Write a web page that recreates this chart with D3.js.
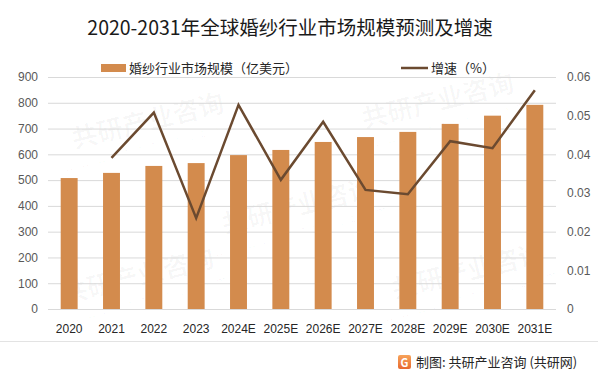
<!DOCTYPE html>
<html>
<head>
  <meta charset="utf-8">
  <title>2020-2031年全球婚纱行业市场规模预测及增速</title>
  <style>
    body { margin: 0; background: #fff; }
    text { font-family: "Noto Sans CJK SC", "Noto Sans", sans-serif; }
    .tick text { font-family: "Liberation Sans", "Noto Sans", sans-serif; }
  </style>
  <script src="https://d3js.org/d3.v7.min.js"></script>
</head>
<body>
  <div id="chart"></div>
  <script>
    const categories = ['2020', '2021', '2022', '2023', '2024E', '2025E', '2026E',
      '2027E', '2028E', '2029E', '2030E', '2031E'];
    const marketSize = [508, 528, 555, 566, 597, 617, 648, 667, 687, 718, 750, 792];
    const growth = [null, 0.0391, 0.0508, 0.0235, 0.0528, 0.0334, 0.0484,
      0.0308, 0.0297, 0.0434, 0.0416, 0.0566];
    const leftTicks = [0, 100, 200, 300, 400, 500, 600, 700, 800, 900];
    const rightTicks = [0, 0.01, 0.02, 0.03, 0.04, 0.05, 0.06];

    const W = 602, H = 375;
    const plot = { left: 48, right: 556, top: 77, bottom: 309 };
    const barColor = '#d38b4d', lineColor = '#6b4a30';

    const svg = d3.select('#chart').append('svg')
      .attr('width', W)
      .attr('height', H);

    // faint watermarks, kept inside the frame
    const marks = [[150, 130], [440, 110], [300, 215], [140, 285], [470, 280]];
    const wm = svg.append('g').attr('class', 'watermark');
    marks.forEach(([x, y]) => {
      const g = wm.append('g').attr('transform', `translate(${x},${y}) rotate(-14)`);
      g.append('text').attr('text-anchor', 'middle')
        .attr('font-size', 26).attr('font-weight', 'bold')
        .attr('fill', '#000').attr('fill-opacity', 0.03)
        .text('共研产业咨询');
      g.append('text').attr('text-anchor', 'middle').attr('y', 20)
        .attr('font-size', 12).attr('letter-spacing', 7)
        .attr('fill', '#000').attr('fill-opacity', 0.03)
        .text('www.gonyn.com');
    });

    const x = d3.scaleBand()
      .domain(categories)
      .range([plot.left, plot.right])
      .paddingInner(0.6)
      .paddingOuter(0.3);

    const y = d3.scaleLinear().domain([0, 900]).range([plot.bottom, plot.top]);
    const y2 = d3.scaleLinear().domain([0, 0.06]).range([plot.bottom, plot.top]);

    // gridlines
    svg.append('g')
      .selectAll('line')
      .data(leftTicks)
      .join('line')
        .attr('x1', plot.left).attr('x2', plot.right)
        .attr('y1', d => y(d) + 0.5).attr('y2', d => y(d) + 0.5)
        .attr('stroke', '#d9d9d9').attr('stroke-width', 1);

    // left axis
    const leftAxis = svg.append('g')
      .attr('transform', `translate(${plot.left - 10},0)`)
      .call(d3.axisLeft(y).tickValues(leftTicks).tickSize(0).tickPadding(0));
    leftAxis.select('.domain').remove();
    leftAxis.selectAll('text').attr('font-size', 12).attr('fill', '#595959');

    // right axis
    const rightAxis = svg.append('g')
      .attr('transform', `translate(${plot.right + 11},0)`)
      .call(d3.axisRight(y2).tickValues(rightTicks).tickSize(0).tickPadding(0)
        .tickFormat(d => d === 0 ? '0' : d.toFixed(2)));
    rightAxis.select('.domain').remove();
    rightAxis.selectAll('text').attr('font-size', 12).attr('fill', '#595959');

    // bottom axis
    const bottomAxis = svg.append('g')
      .attr('transform', `translate(0,${plot.bottom + 15})`)
      .call(d3.axisBottom(x).tickSize(0).tickPadding(0));
    bottomAxis.select('.domain').remove();
    bottomAxis.selectAll('text').attr('font-size', 12).attr('fill', '#262626');

    // bars
    svg.append('g')
      .selectAll('rect')
      .data(marketSize)
      .join('rect')
        .attr('x', (d, i) => x(categories[i]))
        .attr('y', d => y(d))
        .attr('width', x.bandwidth())
        .attr('height', d => y(0) - y(d))
        .attr('fill', barColor);

    // growth line
    const line = d3.line()
      .defined(d => d != null)
      .x((d, i) => x(categories[i]) + x.bandwidth() / 2)
      .y(d => y2(d));

    svg.append('path')
      .datum(growth)
      .attr('d', line)
      .attr('fill', 'none')
      .attr('stroke', lineColor)
      .attr('stroke-width', 2.5)
      .attr('stroke-linejoin', 'miter');

    // title
    svg.append('text')
      .attr('x', 290).attr('y', 35)
      .attr('text-anchor', 'middle')
      .attr('font-size', 19.5)
      .attr('fill', '#1a1a1a')
      .text('2020-2031年全球婚纱行业市场规模预测及增速');

    // legend
    const legend = svg.append('g');
    legend.append('rect')
      .attr('x', 101).attr('y', 64).attr('width', 25).attr('height', 8)
      .attr('fill', barColor);
    legend.append('text')
      .attr('x', 129).attr('y', 72.5)
      .attr('font-size', 13).attr('fill', '#262626')
      .text('婚纱行业市场规模（亿美元）');
    legend.append('line')
      .attr('x1', 401).attr('x2', 428).attr('y1', 68).attr('y2', 68)
      .attr('stroke', lineColor).attr('stroke-width', 2.5);
    legend.append('text')
      .attr('x', 431).attr('y', 72.5)
      .attr('font-size', 13).attr('fill', '#262626')
      .text('增速（%）');

    // separator
    svg.append('line')
      .attr('x1', 0).attr('x2', 598).attr('y1', 341.5).attr('y2', 341.5)
      .attr('stroke', '#e3e3e3').attr('stroke-width', 1);

    // source
    const grad = svg.append('defs').append('linearGradient')
      .attr('id', 'logo').attr('x1', 0).attr('y1', 0).attr('x2', 0).attr('y2', 1);
    grad.append('stop').attr('offset', 0).attr('stop-color', '#f7a35a');
    grad.append('stop').attr('offset', 1).attr('stop-color', '#e8692f');
    svg.append('rect')
      .attr('x', 398).attr('y', 355).attr('width', 13).attr('height', 14)
      .attr('rx', 2).attr('fill', 'url(#logo)');
    svg.append('text')
      .attr('x', 404.5).attr('y', 366.5).attr('text-anchor', 'middle')
      .attr('font-size', 11).attr('font-weight', 'bold').attr('fill', '#fff')
      .text('G');
    svg.append('text')
      .attr('x', 416).attr('y', 367)
      .attr('font-size', 13).attr('fill', '#262626')
      .text('制图: 共研产业咨询 (共研网)');
  </script>
</body>
</html>
